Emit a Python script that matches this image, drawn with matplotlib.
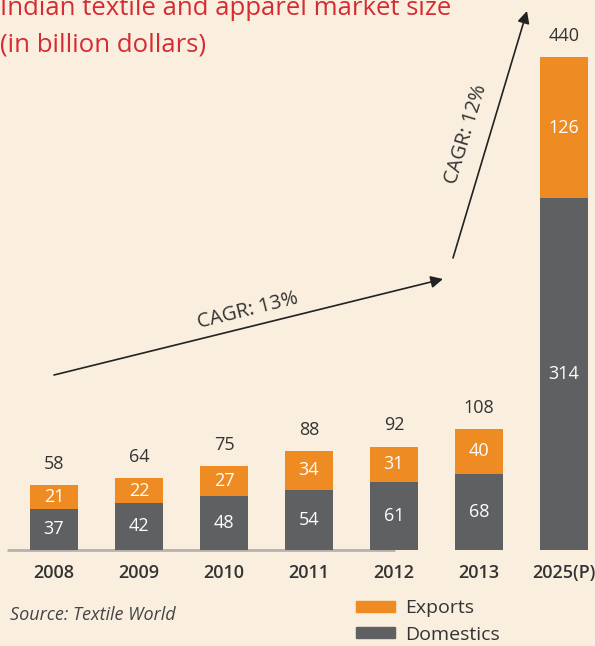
import matplotlib
matplotlib.use("Agg")
import matplotlib.pyplot as plt
from matplotlib.patches import Patch

years = ["2008", "2009", "2010", "2011", "2012", "2013", "2025(P)"]
domestics = [37, 42, 48, 54, 61, 68, 314]
exports = [21, 22, 27, 34, 31, 40, 126]
totals = [58, 64, 75, 88, 92, 108, 440]

BG = "#faefdf"
ORANGE = "#ee8b22"
GREY = "#5f6062"
RED = "#d52b33"
TEXT = "#333333"

plt.rcParams["font.family"] = ["Open Sans", "DejaVu Sans"]

W, H = 595, 646
fig = plt.figure(figsize=(W / 100, H / 100), dpi=100, facecolor=BG)


def fx(px):
    return px / W


def fy(py):
    return 1 - py / H


# axes spans the whole figure; data x = bar index, y = value
ax = fig.add_axes([0, 0, 1, 1])
ax.set_facecolor(BG)
step = 85.0
scale = 1.12
ax.set_xlim(-54 / step, (W - 54) / step)
ax.set_ylim(-(H - 550) / scale, 550 / scale)
ax.axis("off")

x = list(range(len(years)))
width = 48 / step
ax.bar(x, domestics, width, color=GREY, zorder=2)
ax.bar(x, exports, width, bottom=domestics, color=ORANGE, zorder=2)
ax.hlines(0, -47 / step, (395 - 54) / step, color="#b5b2ad", lw=2, zorder=1)

for i in x:
    d, e, t = domestics[i], exports[i], totals[i]
    ax.text(i, d / 2, str(d), ha="center", va="center", color="white", fontsize=13)
    ax.text(i, d + e / 2, str(e), ha="center", va="center", color="white", fontsize=13)
    ax.annotate(str(t), (i, t), xytext=(0, 9), textcoords="offset points",
                ha="center", va="bottom", color=TEXT, fontsize=13)
    ax.annotate(years[i], (i, 0), xytext=(0, -10), textcoords="offset points",
                ha="center", va="top", color=TEXT, fontsize=13, fontweight="semibold")

# CAGR arrows
arrow = dict(arrowstyle="-|>", color="#222222", lw=1.2, mutation_scale=18,
             shrinkA=0, shrinkB=0)
ax.annotate("", xy=(fx(443), fy(279)), xytext=(fx(54), fy(375)),
            xycoords="figure fraction", textcoords="figure fraction", arrowprops=arrow)
ax.annotate("", xy=(fx(527), fy(11)), xytext=(fx(453), fy(258)),
            xycoords="figure fraction", textcoords="figure fraction", arrowprops=arrow)
fig.text(fx(248), fy(311), "CAGR: 13%", rotation=14, ha="center", va="center",
         color=TEXT, fontsize=14.5, rotation_mode="anchor")
fig.text(fx(466), fy(134), "CAGR: 12%", rotation=73, ha="center", va="center",
         color=TEXT, fontsize=14.5, rotation_mode="anchor")

# title (top line is cut by the figure edge, as in the source)
fig.text(0, fy(15), "Indian textile and apparel market size", ha="left",
         va="baseline", color=RED, fontsize=18.5)
fig.text(0, fy(52), "(in billion dollars)", ha="left", va="baseline",
         color=RED, fontsize=18.5)

fig.text(fx(10), fy(620), "Source: Textile World", ha="left", va="baseline",
         color="#444444", fontsize=13, style="italic")

handles = [Patch(color=ORANGE), Patch(color=GREY)]
fig.legend(handles, ["Exports", "Domestics"], loc="upper left",
           bbox_to_anchor=(fx(356), fy(599)), frameon=False, fontsize=14,
           handlelength=2.0, handleheight=0.5, labelspacing=0.45,
           handletextpad=0.55, borderpad=0, borderaxespad=0, labelcolor=TEXT)

fig.savefig("out.png", dpi=100, facecolor=BG)
